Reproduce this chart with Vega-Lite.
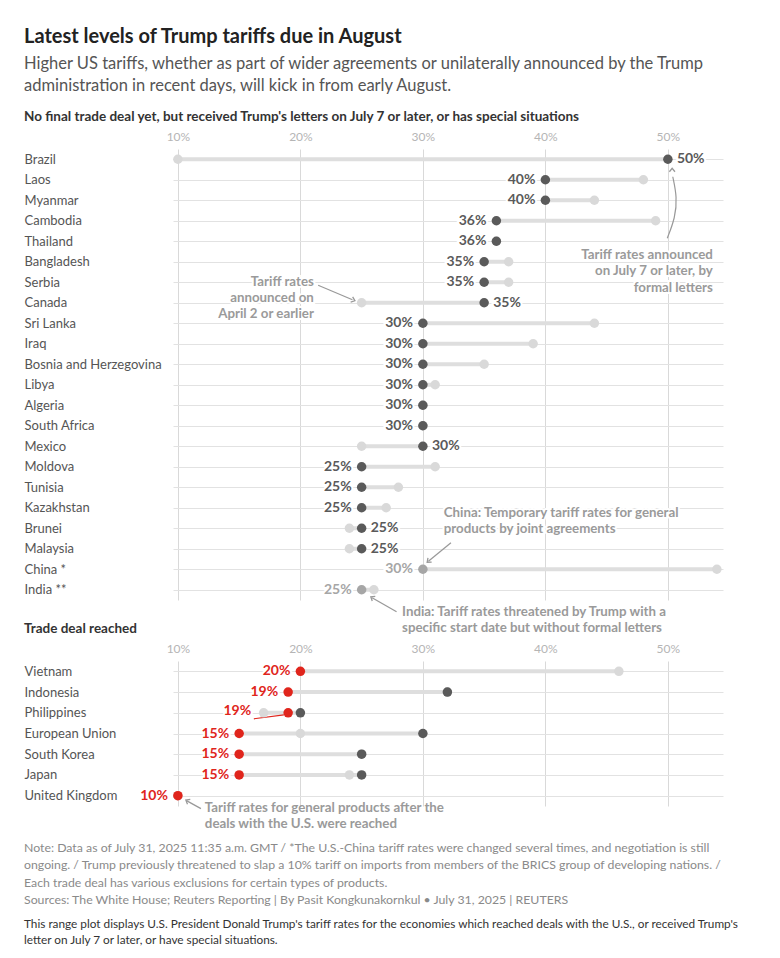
{
  "$schema": "https://vega.github.io/schema/vega-lite/v6.json",
  "background": "white",
  "padding": {"left": 24, "top": 27, "right": 5, "bottom": 5},
  "config": {
    "view": {"stroke": null},
    "font": "Lato",
    "axis": {"labelFont": "Lato"}
  },
  "datasets": {
    "pending": [
      {"country": "Brazil", "kind": "april", "rate": 0.10},
      {"country": "Brazil", "kind": "letter", "rate": 0.50},
      {"country": "Laos", "kind": "april", "rate": 0.48},
      {"country": "Laos", "kind": "letter", "rate": 0.40},
      {"country": "Myanmar", "kind": "april", "rate": 0.44},
      {"country": "Myanmar", "kind": "letter", "rate": 0.40},
      {"country": "Cambodia", "kind": "april", "rate": 0.49},
      {"country": "Cambodia", "kind": "letter", "rate": 0.36},
      {"country": "Thailand", "kind": "april", "rate": 0.36},
      {"country": "Thailand", "kind": "letter", "rate": 0.36},
      {"country": "Bangladesh", "kind": "april", "rate": 0.37},
      {"country": "Bangladesh", "kind": "letter", "rate": 0.35},
      {"country": "Serbia", "kind": "april", "rate": 0.37},
      {"country": "Serbia", "kind": "letter", "rate": 0.35},
      {"country": "Canada", "kind": "april", "rate": 0.25},
      {"country": "Canada", "kind": "letter", "rate": 0.35},
      {"country": "Sri Lanka", "kind": "april", "rate": 0.44},
      {"country": "Sri Lanka", "kind": "letter", "rate": 0.30},
      {"country": "Iraq", "kind": "april", "rate": 0.39},
      {"country": "Iraq", "kind": "letter", "rate": 0.30},
      {"country": "Bosnia and Herzegovina", "kind": "april", "rate": 0.35},
      {"country": "Bosnia and Herzegovina", "kind": "letter", "rate": 0.30},
      {"country": "Libya", "kind": "april", "rate": 0.31},
      {"country": "Libya", "kind": "letter", "rate": 0.30},
      {"country": "Algeria", "kind": "april", "rate": 0.30},
      {"country": "Algeria", "kind": "letter", "rate": 0.30},
      {"country": "South Africa", "kind": "april", "rate": 0.30},
      {"country": "South Africa", "kind": "letter", "rate": 0.30},
      {"country": "Mexico", "kind": "april", "rate": 0.25},
      {"country": "Mexico", "kind": "letter", "rate": 0.30},
      {"country": "Moldova", "kind": "april", "rate": 0.31},
      {"country": "Moldova", "kind": "letter", "rate": 0.25},
      {"country": "Tunisia", "kind": "april", "rate": 0.28},
      {"country": "Tunisia", "kind": "letter", "rate": 0.25},
      {"country": "Kazakhstan", "kind": "april", "rate": 0.27},
      {"country": "Kazakhstan", "kind": "letter", "rate": 0.25},
      {"country": "Brunei", "kind": "april", "rate": 0.24},
      {"country": "Brunei", "kind": "letter", "rate": 0.25},
      {"country": "Malaysia", "kind": "april", "rate": 0.24},
      {"country": "Malaysia", "kind": "letter", "rate": 0.25},
      {"country": "China *", "kind": "april", "rate": 0.54},
      {"country": "China *", "kind": "special", "rate": 0.30},
      {"country": "India **", "kind": "april", "rate": 0.26},
      {"country": "India **", "kind": "special", "rate": 0.25}
    ],
    "deals": [
      {"country": "Vietnam", "kind": "april", "rate": 0.46},
      {"country": "Vietnam", "kind": "deal", "rate": 0.20},
      {"country": "Indonesia", "kind": "april", "rate": 0.32},
      {"country": "Indonesia", "kind": "letter", "rate": 0.32},
      {"country": "Indonesia", "kind": "deal", "rate": 0.19},
      {"country": "Philippines", "kind": "april", "rate": 0.17},
      {"country": "Philippines", "kind": "letter", "rate": 0.20},
      {"country": "Philippines", "kind": "deal", "rate": 0.19},
      {"country": "European Union", "kind": "april", "rate": 0.20},
      {"country": "European Union", "kind": "letter", "rate": 0.30},
      {"country": "European Union", "kind": "deal", "rate": 0.15},
      {"country": "South Korea", "kind": "april", "rate": 0.25},
      {"country": "South Korea", "kind": "letter", "rate": 0.25},
      {"country": "South Korea", "kind": "deal", "rate": 0.15},
      {"country": "Japan", "kind": "april", "rate": 0.24},
      {"country": "Japan", "kind": "letter", "rate": 0.25},
      {"country": "Japan", "kind": "deal", "rate": 0.15},
      {"country": "United Kingdom", "kind": "april", "rate": 0.10},
      {"country": "United Kingdom", "kind": "deal", "rate": 0.10}
    ]
  },
  "title": {
    "text": "Latest levels of Trump tariffs due in August",
    "subtitle": ["Higher US tariffs, whether as part of wider agreements or unilaterally announced by the Trump", "administration in recent days, will kick in from early August."],
    "anchor": "start",
    "font": "Lato",
    "fontSize": 20,
    "fontWeight": "bold",
    "color": "#222222",
    "subtitleFont": "Lato",
    "subtitleFontSize": 16.5,
    "subtitleColor": "#555555",
    "subtitleLineHeight": 22,
    "subtitlePadding": 9,
    "offset": 15
  },
  "vconcat": [
    {
      "title": {
        "text": [
          "Note: Data as of July 31, 2025 11:35 a.m. GMT / *The U.S.-China tariff rates were changed several times, and negotiation is still",
          "ongoing. / Trump previously threatened to slap a 10% tariff on imports from members of the BRICS group of developing nations. /",
          "Each trade deal has various exclusions for certain types of products.",
          "Sources: The White House; Reuters Reporting | By Pasit Kongkunakornkul • July 31, 2025 | REUTERS"
        ],
        "subtitle": [
          "This range plot displays U.S. President Donald Trump's tariff rates for the economies which reached deals with the U.S., or received Trump's",
          "letter on July 7 or later, or have special situations."
        ],
        "orient": "bottom",
        "anchor": "start",
        "frame": "bounds",
        "font": "Lato",
        "fontSize": 12.3,
        "fontWeight": "normal",
        "color": "#8a8a8a",
        "lineHeight": 17.5,
        "subtitleFont": "Lato",
        "subtitleFontSize": 11.8,
        "subtitleColor": "#333333",
        "subtitleLineHeight": 16.5,
        "subtitlePadding": 12,
        "offset": 12
      },
      "bounds": "flush",
      "spacing": 61,
      "vconcat": [
        {
          "width": 550,
          "height": 451,
          "title": {
            "text": "No final trade deal yet, but received Trump's letters on July 7 or later, or has special situations",
            "anchor": "start",
            "frame": "bounds",
            "font": "Lato",
            "fontSize": 13.5,
            "fontWeight": "bold",
            "color": "#333333",
            "offset": 7
          },
          "data": {"name": "pending"},
          "encoding": {
            "x": {
              "field": "rate", "type": "quantitative",
              "scale": {"domain": [0.096, 0.545], "nice": false, "zero": false},
              "axis": {"orient": "top", "values": [0.1, 0.2, 0.3, 0.4, 0.5], "format": ".0%", "ticks": false, "tickSize": 0, "domain": false, "grid": true, "gridColor": "#d9d9d9", "labelColor": "#b5b5b5", "labelFontSize": 12, "labelPadding": 6, "title": null}
            },
            "y": {
              "field": "country", "type": "ordinal",
              "sort": ["Brazil", "Laos", "Myanmar", "Cambodia", "Thailand", "Bangladesh", "Serbia", "Canada", "Sri Lanka", "Iraq", "Bosnia and Herzegovina", "Libya", "Algeria", "South Africa", "Mexico", "Moldova", "Tunisia", "Kazakhstan", "Brunei", "Malaysia", "China *", "India **"],
              "scale": {"type": "point", "padding": 0.5},
              "axis": {"orient": "left", "labelAlign": "left", "labelPadding": 149, "ticks": false, "tickSize": 0, "domain": false, "grid": true, "gridColor": "#e2e2e2", "labelColor": "#555555", "labelFontSize": 13, "labelOverlap": false, "labelBound": false, "title": null}
            }
          },
          "layer": [
            {
              "mark": {"type": "rule", "stroke": "#dedede", "strokeWidth": 4},
              "encoding": {
                "x": {"aggregate": "min", "field": "rate", "type": "quantitative", "scale": {"domain": [0.096, 0.545], "nice": false, "zero": false}},
                "x2": {"aggregate": "max", "field": "rate"}
              }
            },
            {
              "data": {"values": [{"note": "Tariff rates\nannounced on\nApril 2 or earlier", "rate": 0.211, "country": "Serbia"}]},
              "encoding": {"text": {"field": "note"}},
              "layer": [
                {"mark": {"type": "text", "align": "right", "baseline": "middle", "lineBreak": "\n", "lineHeight": 16, "fontSize": 13.3, "fontWeight": "bold", "stroke": "white", "strokeWidth": 4, "fill": "white"}},
                {"mark": {"type": "text", "align": "right", "baseline": "middle", "lineBreak": "\n", "lineHeight": 16, "fontSize": 13.3, "fontWeight": "bold", "fill": "#9a9a9a"}}
              ]
            },
            {
              "data": {"values": [{"note": "Tariff rates announced\non July 7 or later, by\nformal letters", "rate": 0.5367, "country": "Bangladesh"}]},
              "encoding": {"text": {"field": "note"}},
              "layer": [
                {"mark": {"type": "text", "align": "right", "baseline": "middle", "dy": -7, "lineBreak": "\n", "lineHeight": 16.5, "fontSize": 13.3, "fontWeight": "bold", "stroke": "white", "strokeWidth": 4, "fill": "white"}},
                {"mark": {"type": "text", "align": "right", "baseline": "middle", "dy": -7, "lineBreak": "\n", "lineHeight": 16.5, "fontSize": 13.3, "fontWeight": "bold", "fill": "#9a9a9a"}}
              ]
            },
            {
              "data": {"values": [{"note": "China: Temporary tariff rates for general\nproducts by joint agreements", "rate": 0.317, "country": "Kazakhstan"}]},
              "encoding": {"text": {"field": "note"}},
              "layer": [
                {"mark": {"type": "text", "align": "left", "baseline": "middle", "dy": 5, "lineBreak": "\n", "lineHeight": 16, "fontSize": 13.3, "fontWeight": "bold", "stroke": "white", "strokeWidth": 4, "fill": "white"}},
                {"mark": {"type": "text", "align": "left", "baseline": "middle", "dy": 5, "lineBreak": "\n", "lineHeight": 16, "fontSize": 13.3, "fontWeight": "bold", "fill": "#9a9a9a"}}
              ]
            },
            {
              "data": {"values": [{"note": "India: Tariff rates threatened by Trump with a\nspecific start date but without formal letters", "rate": 0.283, "country": "India **"}]},
              "mark": {"type": "text", "align": "left", "baseline": "middle", "dy": 22, "lineBreak": "\n", "lineHeight": 16, "fontSize": 13.3, "fontWeight": "bold", "fill": "#9a9a9a"},
              "encoding": {"text": {"field": "note"}}
            },
            {
              "data": {"values": [{"rate": 0.2145, "country": "Serbia", "rate2": 0.2425, "country2": "Canada"}]},
              "mark": {"type": "rule", "yOffset": 3, "y2Offset": -3, "stroke": "#999999", "strokeWidth": 1.2},
              "encoding": {"x2": {"field": "rate2"}, "y2": {"field": "country2"}}
            },
            {
              "data": {"values": [{"rate": 0.3229, "country": "Malaysia", "rate2": 0.3045, "country2": "China *"}]},
              "mark": {"type": "rule", "yOffset": -6, "y2Offset": -8, "stroke": "#999999", "strokeWidth": 1.2},
              "encoding": {"x2": {"field": "rate2"}, "y2": {"field": "country2"}}
            },
            {
              "data": {"values": [{"rate": 0.2785, "country": "India **", "rate2": 0.2585, "country2": "India **"}]},
              "mark": {"type": "rule", "yOffset": 22, "y2Offset": 8, "stroke": "#999999", "strokeWidth": 1.2},
              "encoding": {"x2": {"field": "rate2"}, "y2": {"field": "country2"}}
            },
            {
              "data": {"values": [{"step": 1, "rate": 0.4995, "country": "Thailand"}, {"step": 2, "rate": 0.506, "country": "Cambodia"}, {"step": 3, "rate": 0.5075, "country": "Myanmar"}, {"step": 4, "rate": 0.504, "country": "Laos"}]},
              "mark": {"type": "line", "interpolate": "basis", "yOffset": -3, "stroke": "#999999", "strokeWidth": 1.2},
              "encoding": {"order": {"field": "step", "type": "ordinal"}}
            },
            {
              "data": {"values": [{"rate": 0.5035, "country": "Brazil"}]},
              "mark": {"type": "point", "shape": "M-1,-0.8L0,0L-1,0.8", "angle": 270, "size": 49, "filled": false, "stroke": "#999999", "strokeWidth": 1.3, "opacity": 1, "yOffset": 9}
            },
            {
              "data": {"values": [{"rate": 0.2445, "country": "Canada"}]},
              "mark": {"type": "point", "shape": "M-1,-0.8L0,0L-1,0.8", "angle": 21, "size": 49, "filled": false, "stroke": "#999999", "strokeWidth": 1.3, "opacity": 1, "yOffset": -2}
            },
            {
              "data": {"values": [{"rate": 0.3035, "country": "China *"}]},
              "mark": {"type": "point", "shape": "M-1,-0.8L0,0L-1,0.8", "angle": 139, "size": 49, "filled": false, "stroke": "#999999", "strokeWidth": 1.3, "opacity": 1, "yOffset": -7}
            },
            {
              "data": {"values": [{"rate": 0.2575, "country": "India **"}]},
              "mark": {"type": "point", "shape": "M-1,-0.8L0,0L-1,0.8", "angle": 213, "size": 49, "filled": false, "stroke": "#999999", "strokeWidth": 1.3, "opacity": 1, "yOffset": 7}
            },
            {
              "transform": [{"filter": "datum.kind == 'april'"}],
              "mark": {"type": "circle", "size": 90, "opacity": 1},
              "encoding": {"color": {"field": "kind", "type": "nominal", "scale": {"domain": ["april", "letter", "special", "deal"], "range": ["#d9d9d9", "#5a5a5a", "#a6a6a6", "#e0251c"]}, "legend": null}}
            },
            {
              "transform": [{"filter": "datum.kind != 'april'"}],
              "mark": {"type": "circle", "size": 90, "opacity": 1},
              "encoding": {"color": {"field": "kind", "type": "nominal", "legend": null}}
            },
            {
              "transform": [
                {"joinaggregate": [{"op": "max", "field": "rate", "as": "maxRate"}, {"op": "min", "field": "rate", "as": "minRate"}], "groupby": ["country"]},
                {"filter": "datum.kind != 'april' && datum.rate == datum.maxRate && datum.rate > datum.minRate"}
              ],
              "encoding": {"text": {"field": "rate", "type": "quantitative", "format": ".0%"}},
              "layer": [
                {"mark": {"type": "text", "align": "left", "baseline": "middle", "dx": 9, "fontSize": 14, "fontWeight": "bold", "stroke": "white", "strokeWidth": 4, "fill": "white"}},
                {"mark": {"type": "text", "align": "left", "baseline": "middle", "dx": 9, "fontSize": 14, "fontWeight": "bold"}, "encoding": {"color": {"field": "kind", "type": "nominal", "legend": null}}}
              ]
            },
            {
              "transform": [
                {"joinaggregate": [{"op": "max", "field": "rate", "as": "maxRate"}, {"op": "min", "field": "rate", "as": "minRate"}], "groupby": ["country"]},
                {"filter": "datum.kind != 'april' && !(datum.rate == datum.maxRate && datum.rate > datum.minRate)"}
              ],
              "encoding": {"text": {"field": "rate", "type": "quantitative", "format": ".0%"}},
              "layer": [
                {"mark": {"type": "text", "align": "right", "baseline": "middle", "dx": -10, "fontSize": 14, "fontWeight": "bold", "stroke": "white", "strokeWidth": 4, "fill": "white"}},
                {"mark": {"type": "text", "align": "right", "baseline": "middle", "dx": -10, "fontSize": 14, "fontWeight": "bold"}, "encoding": {"color": {"field": "kind", "type": "nominal", "legend": null}}}
              ]
            }
          ]
        },
        {
          "width": 550,
          "height": 145,
          "title": {
            "text": "Trade deal reached",
            "anchor": "start",
            "frame": "bounds",
            "font": "Lato",
            "fontSize": 13.5,
            "fontWeight": "bold",
            "color": "#333333",
            "offset": 7
          },
          "data": {"name": "deals"},
          "encoding": {
            "x": {
              "field": "rate", "type": "quantitative",
              "scale": {"domain": [0.096, 0.545], "nice": false, "zero": false},
              "axis": {"orient": "top", "values": [0.1, 0.2, 0.3, 0.4, 0.5], "format": ".0%", "ticks": false, "tickSize": 0, "domain": false, "grid": true, "gridColor": "#d9d9d9", "labelColor": "#b5b5b5", "labelFontSize": 12, "labelPadding": 6, "title": null}
            },
            "y": {
              "field": "country", "type": "ordinal",
              "sort": ["Vietnam", "Indonesia", "Philippines", "European Union", "South Korea", "Japan", "United Kingdom"],
              "scale": {"type": "point", "padding": 0.5},
              "axis": {"orient": "left", "labelAlign": "left", "labelPadding": 149, "ticks": false, "tickSize": 0, "domain": false, "grid": true, "gridColor": "#e2e2e2", "labelColor": "#555555", "labelFontSize": 13, "labelOverlap": false, "labelBound": false, "title": null}
            }
          },
          "layer": [
            {
              "mark": {"type": "rule", "stroke": "#dedede", "strokeWidth": 4},
              "encoding": {
                "x": {"aggregate": "min", "field": "rate", "type": "quantitative", "scale": {"domain": [0.096, 0.545], "nice": false, "zero": false}},
                "x2": {"aggregate": "max", "field": "rate"}
              }
            },
            {
              "data": {"values": [{"note": "Tariff rates for general products after the\ndeals with the U.S. were reached", "rate": 0.122, "country": "United Kingdom"}]},
              "mark": {"type": "text", "align": "left", "baseline": "middle", "dy": 12, "lineBreak": "\n", "lineHeight": 16, "fontSize": 13.3, "fontWeight": "bold", "fill": "#9a9a9a"},
              "encoding": {"text": {"field": "note"}}
            },
            {
              "data": {"values": [{"rate": 0.1188, "country": "United Kingdom", "rate2": 0.107, "country2": "United Kingdom"}]},
              "mark": {"type": "rule", "yOffset": 13, "y2Offset": 5, "stroke": "#999999", "strokeWidth": 1.2},
              "encoding": {"x2": {"field": "rate2"}, "y2": {"field": "country2"}}
            },
            {
              "data": {"values": [{"rate": 0.1065, "country": "United Kingdom"}]},
              "mark": {"type": "point", "shape": "M-1,-0.8L0,0L-1,0.8", "angle": 210, "size": 49, "filled": false, "stroke": "#999999", "strokeWidth": 1.3, "opacity": 1, "yOffset": 4.5}
            },
            {
              "data": {"values": [{"rate": 0.162, "country": "Philippines", "rate2": 0.1865, "country2": "Philippines"}]},
              "mark": {"type": "rule", "yOffset": 6, "y2Offset": 2, "stroke": "#e0251c", "strokeWidth": 1.2},
              "encoding": {"x2": {"field": "rate2"}, "y2": {"field": "country2"}}
            },
            {
              "transform": [{"filter": "datum.kind == 'april'"}],
              "mark": {"type": "circle", "size": 90, "opacity": 1},
              "encoding": {"color": {"field": "kind", "type": "nominal", "scale": {"domain": ["april", "letter", "special", "deal"], "range": ["#d9d9d9", "#5a5a5a", "#a6a6a6", "#e0251c"]}, "legend": null}}
            },
            {
              "transform": [{"filter": "datum.kind != 'april'"}],
              "mark": {"type": "circle", "size": 90, "opacity": 1},
              "encoding": {"color": {"field": "kind", "type": "nominal", "legend": null}}
            },
            {
              "transform": [{"filter": "datum.kind == 'deal' && datum.country != 'Philippines'"}],
              "encoding": {"text": {"field": "rate", "type": "quantitative", "format": ".0%"}},
              "layer": [
                {"mark": {"type": "text", "align": "right", "baseline": "middle", "dx": -10, "fontSize": 14, "fontWeight": "bold", "stroke": "white", "strokeWidth": 4, "fill": "white"}},
                {"mark": {"type": "text", "align": "right", "baseline": "middle", "dx": -10, "fontSize": 14, "fontWeight": "bold"}, "encoding": {"color": {"field": "kind", "type": "nominal", "legend": null}}}
              ]
            },
            {
              "transform": [{"filter": "datum.kind == 'deal' && datum.country == 'Philippines'"}],
              "encoding": {"text": {"field": "rate", "type": "quantitative", "format": ".0%"}},
              "layer": [
                {"mark": {"type": "text", "align": "right", "baseline": "middle", "dx": -37, "dy": -2, "fontSize": 14, "fontWeight": "bold", "stroke": "white", "strokeWidth": 4, "fill": "white"}},
                {"mark": {"type": "text", "align": "right", "baseline": "middle", "dx": -37, "dy": -2, "fontSize": 14, "fontWeight": "bold"}, "encoding": {"color": {"field": "kind", "type": "nominal", "legend": null}}}
              ]
            }
          ]
        }
      ]
    }
  ]
}
